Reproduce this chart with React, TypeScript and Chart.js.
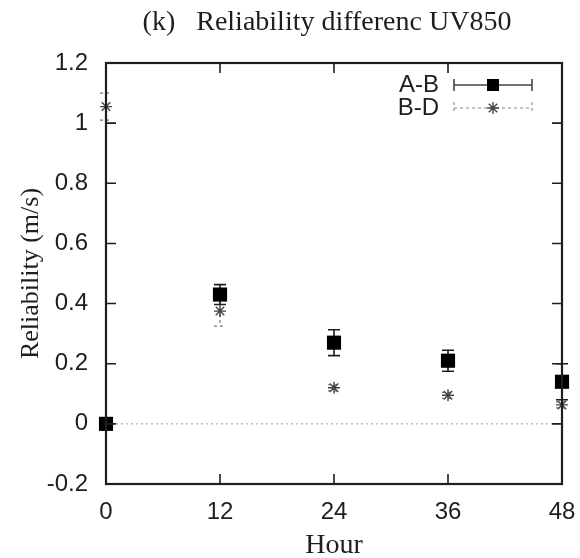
import React, { useEffect, useRef } from "react";
import { Chart, registerables } from "chart.js";
Chart.register(...registerables);

const hours = [0, 12, 24, 36, 48];
const abValues = [0, 0.43, 0.27, 0.21, 0.14];
const abErrors = [0, 0.033, 0.043, 0.035, 0.06];
const bdValues = [1.055, 0.375, 0.12, 0.095, 0.063];
const bdErrors = [0.045, 0.05, 0.01, 0.01, 0.01];
const xTicks = [0, 12, 24, 36, 48];
const yTicks = [-0.2, 0, 0.2, 0.4, 0.6, 0.8, 1, 1.2];
const seriesLabels = ["A-B", "B-D"];
const titleText = "(k)   Reliability differenc UV850";
const xTitle = "Hour";
const yTitle = "Reliability (m/s)";

const INK = "#1e1e1e";
const SANS = "'Liberation Sans', Arial, sans-serif";
const SERIF = "'Liberation Serif', 'Times New Roman', serif";

const drawStar = (ctx: CanvasRenderingContext2D, x: number, y: number, r: number) => {
  ctx.beginPath();
  ctx.moveTo(x - r, y); ctx.lineTo(x + r, y);
  ctx.moveTo(x, y - r); ctx.lineTo(x, y + r);
  const d = r * Math.SQRT1_2;
  ctx.moveTo(x - d, y - d); ctx.lineTo(x + d, y + d);
  ctx.moveTo(x - d, y + d); ctx.lineTo(x + d, y - d);
  ctx.stroke();
};

const customPlugin = {
  id: "gnuplotStyle",
  beforeDatasetsDraw(chart: any) {
    const { ctx, chartArea, scales } = chart;
    const xs = scales.x, ys = scales.y;
    ctx.save();
    const y0 = ys.getPixelForValue(0);
    ctx.strokeStyle = "#9a9a9a";
    ctx.lineWidth = 1;
    ctx.setLineDash([2, 3]);
    ctx.beginPath();
    ctx.moveTo(chartArea.left, y0);
    ctx.lineTo(chartArea.right, y0);
    ctx.stroke();
    ctx.strokeStyle = "#777";
    ctx.lineWidth = 1.2;
    ctx.setLineDash([3, 3]);
    hours.forEach((h, i) => {
      const e = bdErrors[i];
      if (!e) return;
      const x = xs.getPixelForValue(h);
      const yt = ys.getPixelForValue(bdValues[i] + e);
      const yb = ys.getPixelForValue(bdValues[i] - e);
      ctx.beginPath();
      ctx.moveTo(x, yt); ctx.lineTo(x, yb);
      ctx.moveTo(x - 6, yt); ctx.lineTo(x + 6, yt);
      ctx.moveTo(x - 6, yb); ctx.lineTo(x + 6, yb);
      ctx.stroke();
    });
    ctx.setLineDash([]);
    ctx.strokeStyle = INK;
    ctx.lineWidth = 1.6;
    hours.forEach((h, i) => {
      const e = abErrors[i];
      if (!e) return;
      const x = xs.getPixelForValue(h);
      const yt = ys.getPixelForValue(abValues[i] + e);
      const yb = ys.getPixelForValue(abValues[i] - e);
      ctx.beginPath();
      ctx.moveTo(x, yt); ctx.lineTo(x, yb);
      ctx.moveTo(x - 6, yt); ctx.lineTo(x + 6, yt);
      ctx.moveTo(x - 6, yb); ctx.lineTo(x + 6, yb);
      ctx.stroke();
    });
    ctx.restore();
  },
  afterDraw(chart: any) {
    const { ctx, chartArea, scales } = chart;
    const xs = scales.x, ys = scales.y;
    const { left, right, top, bottom } = chartArea;
    ctx.save();
    ctx.setLineDash([]);
    ctx.strokeStyle = INK;
    ctx.lineWidth = 1.6;
    const tl = 10;
    ctx.beginPath();
    xTicks.forEach((v) => {
      const x = xs.getPixelForValue(v);
      if (Math.abs(x - left) < 2 || Math.abs(x - right) < 2) return;
      ctx.moveTo(x, bottom); ctx.lineTo(x, bottom - tl);
      ctx.moveTo(x, top); ctx.lineTo(x, top + tl);
    });
    yTicks.forEach((v) => {
      const y = ys.getPixelForValue(v);
      if (Math.abs(y - top) < 2 || Math.abs(y - bottom) < 2) return;
      ctx.moveTo(left, y); ctx.lineTo(left + tl, y);
      ctx.moveTo(right, y); ctx.lineTo(right - tl, y);
    });
    ctx.stroke();
    ctx.lineWidth = 2.2;
    ctx.strokeRect(left, top, right - left, bottom - top);
    // title
    ctx.fillStyle = INK;
    ctx.font = `28px ${SERIF}`;
    ctx.textAlign = "center";
    ctx.textBaseline = "middle";
    ctx.fillText(titleText, 327, 23);
    // legend
    ctx.font = `24px ${SANS}`;
    ctx.textAlign = "right";
    const lx1 = 454, lx2 = 532, lxm = 493;
    const ly1 = 85, ly2 = 108;
    ctx.fillText(seriesLabels[0], 439, ly1);
    ctx.fillText(seriesLabels[1], 439, ly2);
    ctx.strokeStyle = "#444";
    ctx.lineWidth = 1.6;
    ctx.beginPath();
    ctx.moveTo(lx1, ly1); ctx.lineTo(lx2, ly1);
    ctx.moveTo(lx1, ly1 - 6); ctx.lineTo(lx1, ly1 + 6);
    ctx.moveTo(lx2, ly1 - 6); ctx.lineTo(lx2, ly1 + 6);
    ctx.stroke();
    ctx.fillStyle = "#000";
    ctx.fillRect(lxm - 6, ly1 - 6, 12, 12);
    ctx.strokeStyle = "#888";
    ctx.lineWidth = 1.1;
    ctx.setLineDash([3, 3]);
    ctx.beginPath();
    ctx.moveTo(lx1, ly2); ctx.lineTo(lx2, ly2);
    ctx.moveTo(lx1, ly2 - 6); ctx.lineTo(lx1, ly2 + 6);
    ctx.moveTo(lx2, ly2 - 6); ctx.lineTo(lx2, ly2 + 6);
    ctx.stroke();
    ctx.setLineDash([]);
    ctx.strokeStyle = "#444";
    ctx.lineWidth = 1.4;
    drawStar(ctx, lxm, ly2, 6);
    ctx.restore();
  },
};

export default function App() {
  const ref = useRef<HTMLCanvasElement | null>(null);
  useEffect(() => {
    if (!ref.current) return;
    const chart = new Chart(ref.current, {
      type: "scatter",
      data: {
        datasets: [
          {
            label: seriesLabels[1],
            data: hours.map((h, i) => ({ x: h, y: bdValues[i] })),
            pointStyle: "star",
            pointRadius: 6,
            borderColor: "#444",
            backgroundColor: "#444",
            borderWidth: 1.4,
            showLine: false,
            clip: false,
          } as any,
          {
            label: seriesLabels[0],
            data: hours.map((h, i) => ({ x: h, y: abValues[i] })),
            pointStyle: "rect",
            pointRadius: 10,
            borderColor: "#000",
            backgroundColor: "#000",
            borderWidth: 0,
            showLine: false,
            clip: false,
          } as any,
        ],
      },
      options: {
        animation: false,
        responsive: false,
        events: [],
        layout: { padding: { top: 63, right: 18, left: 0, bottom: 0 } },
        plugins: {
          legend: { display: false },
          title: { display: false },
          tooltip: { enabled: false },
        },
        scales: {
          x: {
            type: "linear",
            min: 0,
            max: 48,
            afterBuildTicks: (s: any) => {
              s.ticks = xTicks.map((v) => ({ value: v }));
            },
            afterFit: (s: any) => {
              s.height = 74;
              s.paddingLeft = 0;
              s.paddingRight = 0;
            },
            grid: { display: false, drawTicks: false },
            border: { display: false },
            ticks: {
              padding: 14,
              color: INK,
              font: { family: SANS, size: 24 },
              maxRotation: 0,
              callback: (v: any) => String(v),
            },
            title: {
              display: true,
              text: xTitle,
              color: INK,
              font: { family: SERIF, size: 28, lineHeight: 0.85 },
              padding: { top: 0, bottom: 0 },
            },
          },
          y: {
            type: "linear",
            min: -0.2,
            max: 1.2,
            afterBuildTicks: (s: any) => {
              s.ticks = yTicks.map((v) => ({ value: v }));
            },
            afterFit: (s: any) => {
              s.width = 106;
              s.paddingTop = 0;
              s.paddingBottom = 0;
            },
            grid: { display: false, drawTicks: false },
            border: { display: false },
            ticks: {
              padding: 18,
              color: INK,
              font: { family: SANS, size: 24 },
              callback: (v: any) => String(Math.round(v * 10) / 10),
            },
            title: {
              display: true,
              text: yTitle,
              color: INK,
              font: { family: SERIF, size: 26, lineHeight: 1 },
              padding: { top: 18, bottom: 0 },
            },
          },
        },
      },
      plugins: [customPlugin],
    });
    return () => chart.destroy();
  }, []);
  return (
    <div style={{ position: "fixed", left: 0, top: 0, width: 580, height: 558, background: "#fff" }}>
      <canvas ref={ref} width={580} height={558} style={{ display: "block", width: 580, height: 558 }} />
    </div>
  );
}
